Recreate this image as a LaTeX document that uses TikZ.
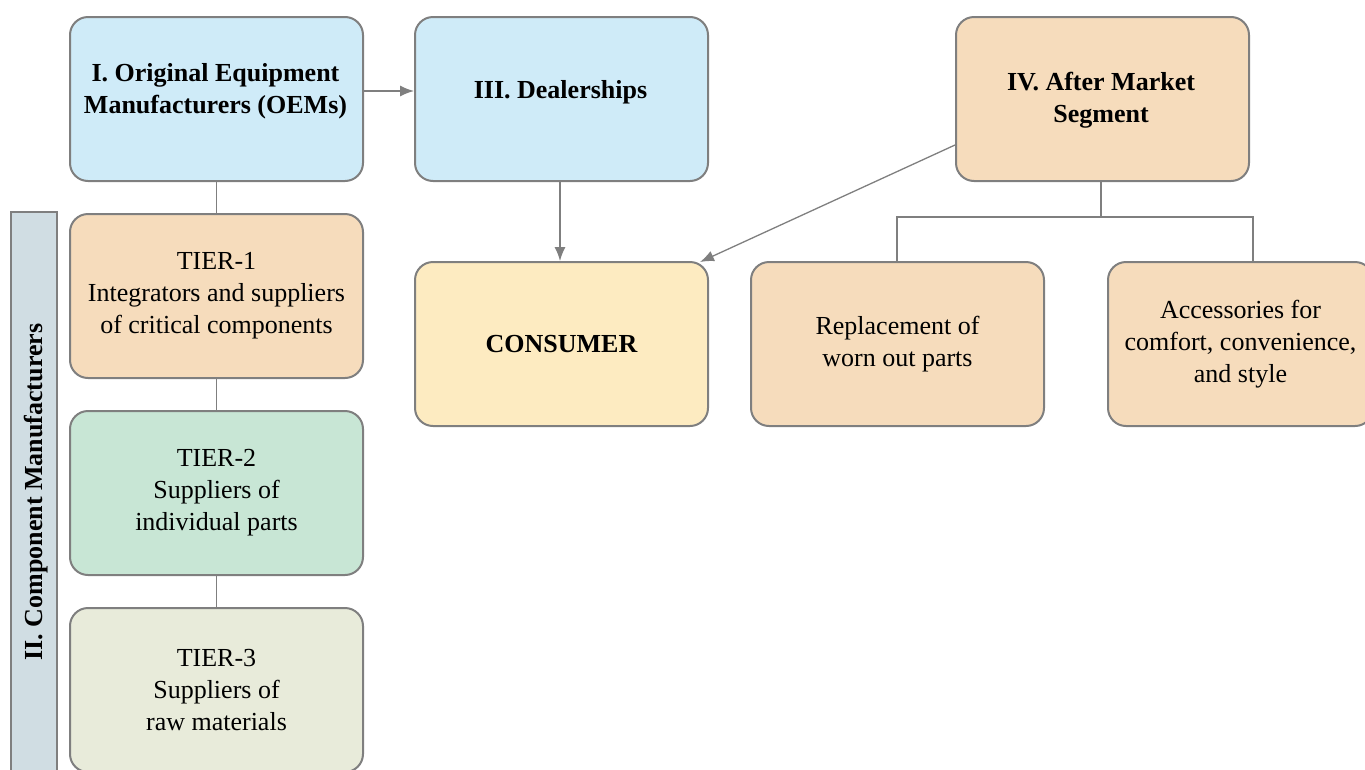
\documentclass[tikz,border=0pt]{standalone}
\usepackage{fontspec}
\setmainfont{Liberation Serif}
\usetikzlibrary{arrows.meta}
\definecolor{bblue}{HTML}{CFEBF8}
\definecolor{bpeach}{HTML}{F6DCBC}
\definecolor{byellow}{HTML}{FDEBC1}
\definecolor{bgreen}{HTML}{C8E6D5}
\definecolor{bolive}{HTML}{E8EBDA}
\definecolor{bside}{HTML}{D0DDE3}
\definecolor{edge}{HTML}{7F7F7F}
\tikzset{
  txt/.style={font=\fontsize{26}{32}\selectfont},
  btxt/.style={font=\bfseries\fontsize{26}{32}\selectfont},
  box/.style={draw=edge, line width=2pt, rounded corners=18pt, minimum width=293pt, minimum height=164pt, inner sep=0pt, align=center, txt, anchor=north west},
  conn/.style={draw=edge, line width=1.3pt},
  arr/.style={conn, -{Latex[length=14pt,width=11pt]}},
}
\begin{document}
\begin{tikzpicture}[x=1pt,y=-1pt]
\useasboundingbox (0,0) rectangle (1365,769);
\fill[bside] (11,212) rectangle (57,775);
\draw[edge, line width=1.5pt] (11,775) -- (11,212) -- (57,212) -- (57,775);
\node[rotate=90, btxt] (side) at (36,492) {II. Component Manufacturers};

\node[box, fill=bblue] (oem) at (69,16) {};
\node[btxt, align=center] (oemt) at (215.5,91) {I. Original Equipment\\Manufacturers (OEMs)};
\node[box, fill=bblue] (deal) at (414,16) {};
\node[btxt] (dealt) at (560.5,92) {III. Dealerships};
\node[box, fill=bpeach] (after) at (955,16) {};
\node[btxt, align=center] (aftert) at (1101,100) {IV. After Market\\Segment};

\node[box, fill=bpeach] (t1) at (69,213) {TIER-1\\Integrators and suppliers\\of critical components};
\node[box, fill=bgreen] (t2) at (69,410) {TIER-2\\Suppliers of\\individual parts};
\node[box, fill=bolive] (t3) at (69,607) {TIER-3\\Suppliers of\\raw materials};

\node[box, fill=byellow, btxt] (cons) at (414,261) {CONSUMER};
\node[box, fill=bpeach] (repl) at (750,261) {Replacement of\\worn out parts};
\node[box, fill=bpeach, minimum width=265pt] (acc) at (1107,261) {Accessories for\\comfort, convenience,\\and style};

\draw[conn] (oem.south) -- (t1.north);
\draw[conn] (t1.south) -- (t2.north);
\draw[conn] (t2.south) -- (t3.north);
\draw[arr] (oem.east |- 0,91) -- (deal.west |- 0,91);
\draw[arr] (deal.south -| 560,0) -- (cons.north -| 560,0);
\coordinate (afs) at (955,145);
\coordinate (cne) at (700,262);
\draw[arr] (afs) -- (cne);
\coordinate (jn) at (1101,217);
\draw[conn] (after.south -| jn) -- (jn);
\draw[conn] (repl.north -| 897,0) -- (897,217) -- (1253,217) -- (acc.north -| 1253,0);
\end{tikzpicture}
\end{document}
